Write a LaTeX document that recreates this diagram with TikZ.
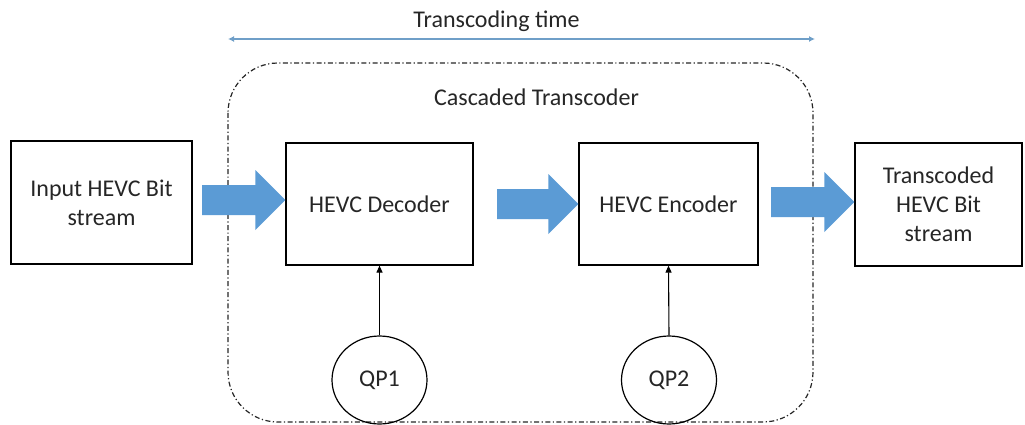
\documentclass[tikz,border=0pt]{standalone}
\usepackage{fontspec}
\setmainfont{Carlito}
\usetikzlibrary{arrows.meta,calc,shapes.geometric}
\definecolor{officeblue}{HTML}{5B9BD5}
\definecolor{timeline}{HTML}{6F9FC8}
\definecolor{inktext}{HTML}{262626}
\begin{document}
\begin{tikzpicture}[x=1pt,y=-1pt,
  every node/.style={font=\fontsize{24}{29}\selectfont, text=inktext},
  block/.style={draw=black, line width=1.2pt, align=center, inner sep=0pt},
  qpcircle/.style={draw=black, line width=1.2pt, ellipse, inner sep=0pt},
  feed/.style={draw=black, line width=1.1pt, -{Triangle[length=7pt,width=6pt]}},
  timespan/.style={draw=timeline, line width=1.7pt,
    {Latex[length=6pt,width=6pt]}-{Latex[length=6pt,width=6pt]}},
  frame/.style={draw=black!85, line width=1.2pt, rounded corners=50pt,
    dash pattern=on 5pt off 2.5pt on 1.2pt off 2.5pt},
  fatarrow/.style={fill=officeblue}]
\useasboundingbox (0,0) rectangle (1025,425);

% transcoder frame
\draw[frame] (228,63) rectangle (813,422);
\node at (536.5,97) {Cascaded Transcoder};

% time span
\coordinate (tstart) at (228,39);
\coordinate (tend) at (815,39);
\draw[timespan] (tstart) -- (tend);
\node at (496.5,21) {Transcoding time};

% blocks
\node[block, minimum width=181pt, minimum height=123pt] (in) at (101.5,202.5)
  {Input HEVC Bit\\stream};
\node[block, minimum width=187pt, minimum height=122pt] (dec) at (379.5,204)
  {HEVC Decoder};
\node[block, minimum width=179pt, minimum height=122pt] (enc) at (668.5,204)
  {HEVC Encoder};
\node[block, minimum width=167pt, minimum height=123pt] (out) at (938.5,204.5)
  {Transcoded\\HEVC Bit\\stream};

% quantisation parameters
\node[qpcircle, minimum width=95pt, minimum height=88pt] (qp1) at (379.5,380) {QP1};
\node[qpcircle, minimum width=95pt, minimum height=88pt] (qp2) at (669,380) {QP2};
\draw[feed] (qp1.north) -- (dec.south);
\draw[feed] (qp2.north) -- (enc.south);

% wide block arrows: tail point, tip point
\newcommand\fatarrow[2]{%
  \fill[fatarrow] let \p1=(#1), \p2=(#2) in
    (\x1,\y1+15pt) -- (\x2-30pt,\y1+15pt) -- (\x2-30pt,\y1+30pt) --
    (\x2,\y1) --
    (\x2-30pt,\y1-30pt) -- (\x2-30pt,\y1-15pt) -- (\x1,\y1-15pt) -- cycle;}
\coordinate (a1) at (202,200);
\coordinate (a2) at (497,204);
\coordinate (a3) at (771,202);
\fatarrow{a1}{dec.west |- a1}
\fatarrow{a2}{enc.west |- a2}
\fatarrow{a3}{out.west |- a3}
\end{tikzpicture}
\end{document}
